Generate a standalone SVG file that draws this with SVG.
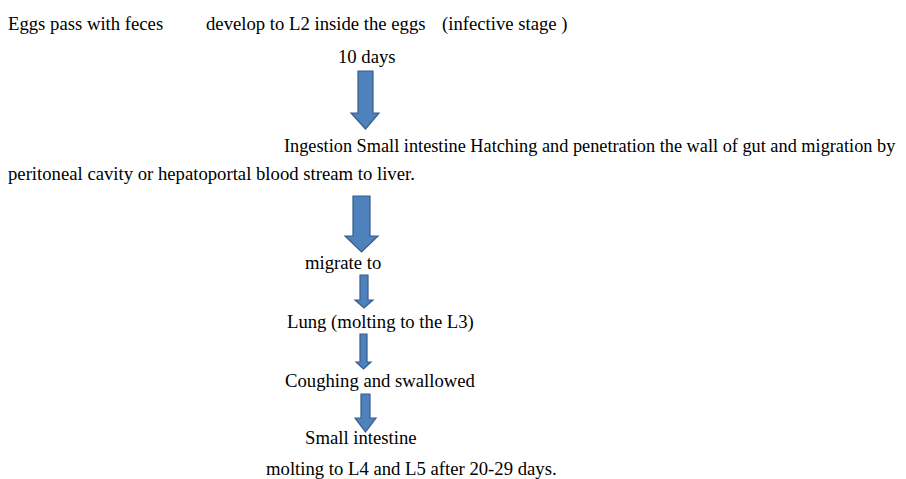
<svg xmlns="http://www.w3.org/2000/svg" width="906" height="479" viewBox="0 0 906 479">
  <style>
    text { font-family: "Liberation Serif", "Times New Roman", serif; font-size: 18.7px; fill: #000; }
    .arrow { fill: #4F81BD; stroke: #385D8A; stroke-width: 1.2; stroke-linejoin: miter; }
  </style>
  <rect width="906" height="479" fill="#fff"/>

  <g id="node-eggs"><text x="8" y="30">Eggs pass with feces</text></g>
  <g id="node-develop"><text x="206" y="30">develop to L2 inside the eggs</text></g>
  <g id="node-infective"><text x="442" y="30">(infective stage )</text></g>
  <g id="node-10days"><text x="338" y="63">10 days</text></g>
  <g id="node-ingestion">
    <text x="284" y="152" style="font-size:18.3px">Ingestion Small intestine Hatching and penetration the wall of gut and migration by</text>
    <text x="8" y="180">peritoneal cavity or hepatoportal blood stream to liver.</text>
  </g>
  <g id="node-migrate"><text x="305" y="269">migrate to</text></g>
  <g id="node-lung"><text x="287" y="328">Lung (molting to the L3)</text></g>
  <g id="node-coughing"><text x="285" y="387">Coughing and swallowed</text></g>
  <g id="node-small-intestine"><text x="305" y="444">Small intestine</text></g>
  <g id="node-molting"><text x="266" y="475">molting to L4 and L5 after 20-29 days.</text></g>

  <g id="connectors">
    <polygon class="arrow" points="358,71 373,71 373,113 379,113 365.5,129 351,113 358,113"/>
    <polygon class="arrow" points="353,196 370,196 370,236 378,236 361.5,252 345,236 353,236"/>
    <polygon class="arrow" points="360,275 368,275 368,300 373,300 364,308 355,300 360,300"/>
    <polygon class="arrow" points="360,334 367,334 367,362 371,362 363.5,369 356,362 360,362"/>
    <polygon class="arrow" points="361,394 370,394 370,418 376,418 365.5,432 355,418 361,418"/>
  </g>
</svg>
